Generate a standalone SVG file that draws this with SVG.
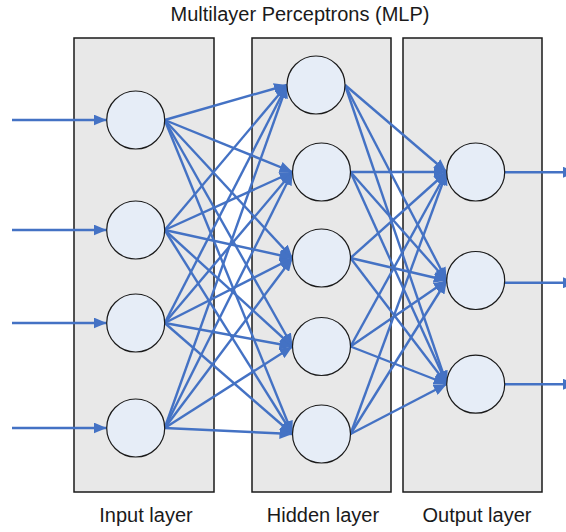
<svg xmlns="http://www.w3.org/2000/svg" width="566" height="532" viewBox="0 0 566 532">
  <style>
    .layer { fill: #e8e8e8; stroke: #1a1a1a; stroke-width: 1.5; }
    .neuron { fill: #e6edf7; stroke: #1a1a1a; stroke-width: 1.2; }
    .edge { stroke: #4472c4; stroke-width: 2.4; fill: none; marker-end: url(#head); }
    .label { font-family: "Liberation Sans", Arial, sans-serif; font-size: 20px; fill: #1a1a1a; text-anchor: middle; }
  </style>
  <defs>
    <marker id="head" markerUnits="userSpaceOnUse" markerWidth="13" markerHeight="11" refX="13" refY="5.5" orient="auto">
      <path d="M0,0 L13,5.5 L0,11 z" fill="#4472c4"/>
    </marker>
  </defs>

  <rect width="566" height="532" fill="#ffffff"/>

  <text class="label" x="300" y="21">Multilayer Perceptrons (MLP)</text>

  <!-- layer panels -->
  <g id="input-layer">
    <rect class="layer" x="74" y="38" width="140" height="454"/>
    <text class="label" x="146" y="522">Input layer</text>
  </g>
  <g id="hidden-layer">
    <rect class="layer" x="252" y="38" width="139" height="454"/>
    <text class="label" x="323" y="522">Hidden layer</text>
  </g>
  <g id="output-layer">
    <rect class="layer" x="403" y="38" width="139" height="454"/>
    <text class="label" x="477" y="522">Output layer</text>
  </g>

  <!-- connections -->
  <g id="connectors">
    <!-- external inputs -->
    <line class="edge" x1="12" y1="120" x2="106.7" y2="120"/>
    <line class="edge" x1="12" y1="230" x2="106.7" y2="230"/>
    <line class="edge" x1="12" y1="323" x2="106.7" y2="323"/>
    <line class="edge" x1="12" y1="428" x2="106.7" y2="428"/>

    <!-- input to hidden -->
    <line class="edge" x1="164.7" y1="120" x2="287" y2="85"/>
    <line class="edge" x1="164.7" y1="120" x2="292.5" y2="172"/>
    <line class="edge" x1="164.7" y1="120" x2="292.5" y2="258"/>
    <line class="edge" x1="164.7" y1="120" x2="292.5" y2="346.5"/>
    <line class="edge" x1="164.7" y1="120" x2="292.5" y2="434"/>

    <line class="edge" x1="164.7" y1="230" x2="287" y2="85"/>
    <line class="edge" x1="164.7" y1="230" x2="292.5" y2="172"/>
    <line class="edge" x1="164.7" y1="230" x2="292.5" y2="258"/>
    <line class="edge" x1="164.7" y1="230" x2="292.5" y2="346.5"/>
    <line class="edge" x1="164.7" y1="230" x2="292.5" y2="434"/>

    <line class="edge" x1="164.7" y1="323" x2="287" y2="85"/>
    <line class="edge" x1="164.7" y1="323" x2="292.5" y2="172"/>
    <line class="edge" x1="164.7" y1="323" x2="292.5" y2="258"/>
    <line class="edge" x1="164.7" y1="323" x2="292.5" y2="346.5"/>
    <line class="edge" x1="164.7" y1="323" x2="292.5" y2="434"/>

    <line class="edge" x1="164.7" y1="428" x2="287" y2="85"/>
    <line class="edge" x1="164.7" y1="428" x2="292.5" y2="172"/>
    <line class="edge" x1="164.7" y1="428" x2="292.5" y2="258"/>
    <line class="edge" x1="164.7" y1="428" x2="292.5" y2="346.5"/>
    <line class="edge" x1="164.7" y1="428" x2="292.5" y2="434"/>

    <!-- hidden to output -->
    <line class="edge" x1="345" y1="85" x2="446.7" y2="172"/>
    <line class="edge" x1="345" y1="85" x2="446.7" y2="280.5"/>
    <line class="edge" x1="345" y1="85" x2="446.7" y2="384"/>

    <line class="edge" x1="350.5" y1="172" x2="446.7" y2="172"/>
    <line class="edge" x1="350.5" y1="172" x2="446.7" y2="280.5"/>
    <line class="edge" x1="350.5" y1="172" x2="446.7" y2="384"/>

    <line class="edge" x1="350.5" y1="258" x2="446.7" y2="172"/>
    <line class="edge" x1="350.5" y1="258" x2="446.7" y2="280.5"/>
    <line class="edge" x1="350.5" y1="258" x2="446.7" y2="384"/>

    <line class="edge" x1="350.5" y1="346.5" x2="446.7" y2="172"/>
    <line class="edge" x1="350.5" y1="346.5" x2="446.7" y2="280.5"/>
    <line class="edge" x1="350.5" y1="346.5" x2="446.7" y2="384"/>

    <line class="edge" x1="350.5" y1="434" x2="446.7" y2="172"/>
    <line class="edge" x1="350.5" y1="434" x2="446.7" y2="280.5"/>
    <line class="edge" x1="350.5" y1="434" x2="446.7" y2="384"/>

    <!-- network outputs -->
    <line class="edge" x1="504.7" y1="172.3" x2="576" y2="172.3"/>
    <line class="edge" x1="504.7" y1="282.7" x2="576" y2="282.7"/>
    <line class="edge" x1="504.7" y1="384.3" x2="576" y2="384.3"/>
  </g>

  <!-- neurons -->
  <g id="in1"><circle class="neuron" cx="135.7" cy="120" r="29"/></g>
  <g id="in2"><circle class="neuron" cx="135.7" cy="230" r="29"/></g>
  <g id="in3"><circle class="neuron" cx="135.7" cy="323" r="29"/></g>
  <g id="in4"><circle class="neuron" cx="135.7" cy="428" r="29"/></g>

  <g id="h1"><circle class="neuron" cx="316" cy="85" r="29"/></g>
  <g id="h2"><circle class="neuron" cx="321.5" cy="172" r="29"/></g>
  <g id="h3"><circle class="neuron" cx="321.5" cy="258" r="29"/></g>
  <g id="h4"><circle class="neuron" cx="321.5" cy="346.5" r="29"/></g>
  <g id="h5"><circle class="neuron" cx="321.5" cy="434" r="29"/></g>

  <g id="out1"><circle class="neuron" cx="475.7" cy="172" r="29"/></g>
  <g id="out2"><circle class="neuron" cx="475.7" cy="280.5" r="29"/></g>
  <g id="out3"><circle class="neuron" cx="475.7" cy="384.2" r="29"/></g>
</svg>
